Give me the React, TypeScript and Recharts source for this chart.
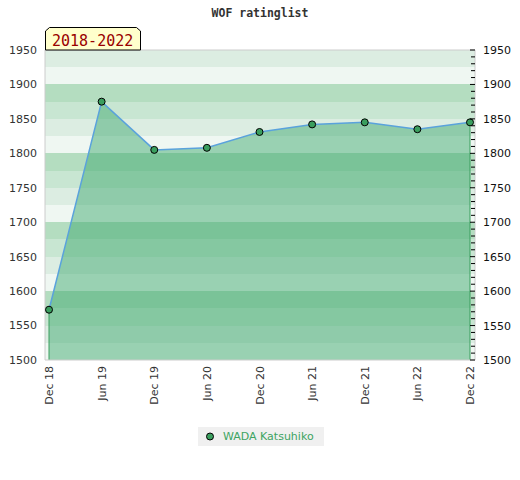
import { ComposedChart, Area, Line, XAxis, YAxis, CartesianGrid, ReferenceLine } from 'recharts';

const months = ['Dec 18', 'Jun 19', 'Dec 19', 'Jun 20', 'Dec 20', 'Jun 21', 'Dec 21', 'Jun 22', 'Dec 22'];
const ratings = [1573, 1875, 1805, 1808, 1831, 1842, 1845, 1835, 1845];
const playerName = 'WADA Katsuhiko';
const periodLabel = '2018-2022';
const chartTitle = 'WOF ratinglist';

const yTicks = [1500, 1550, 1600, 1650, 1700, 1750, 1800, 1850, 1900, 1950];
const bandEdges = [
  1500, 1525, 1550, 1575, 1600, 1625, 1650, 1675, 1700, 1725, 1750, 1775, 1800, 1825, 1850, 1875, 1900, 1925, 1950,
];
const minorTicks = [
  1500, 1510, 1520, 1530, 1540, 1550, 1560, 1570, 1580, 1590, 1600, 1610, 1620, 1630, 1640, 1650, 1660, 1670, 1680,
  1690, 1700, 1710, 1720, 1730, 1740, 1750, 1760, 1770, 1780, 1790, 1800, 1810, 1820, 1830, 1840, 1850, 1860, 1870,
  1880, 1890, 1900, 1910, 1920, 1930, 1940, 1950,
];

const data = months.map((month, i) => ({ month, rating: ratings[i] }));
const yMin = yTicks[0];
const yMax = yTicks[yTicks.length - 1];

const font = 'DejaVu Sans, sans-serif';
const mono = 'DejaVu Sans Mono, monospace';
const green = '#3a9e5e';

const bandColors = ['#dcede2', '#eff7f2', '#b4ddc0', '#c8e6d2'];

function MonthTick({ x, y, payload }: any) {
  return (
    <g transform={`translate(${x},${y})`}>
      <text x={0} y={0} dy={4} textAnchor="end" transform="rotate(-90)" fill="#333" fontSize={11} fontFamily={font}>
        {payload.value}
      </text>
    </g>
  );
}

function RightTick({ x, y, payload }: any) {
  const ax = x - 8;
  const major = payload.value % 50 === 0;
  return (
    <g>
      <line x1={ax - (major ? 5 : 4)} x2={ax} y1={y} y2={y} stroke="#000" strokeWidth={1} />
      {major && (
        <text x={x} y={y} dy={4} textAnchor="start" fill="#111" fontSize={11} fontFamily={font}>
          {payload.value}
        </text>
      )}
    </g>
  );
}

export default function App() {
  return (
    <div style={{ position: 'absolute', left: 0, top: 0, width: 520, height: 480, background: '#fff' }}>
      <ComposedChart width={520} height={480} data={data} margin={{ top: 50, right: 0, bottom: 0, left: 0 }}>
        <CartesianGrid
          yAxisId="left"
          vertical={false}
          horizontalValues={bandEdges}
          horizontalFill={bandColors}
          fillOpacity={1}
          stroke="transparent"
        />
        <XAxis
          dataKey="month"
          interval={0}
          height={120}
          padding={{ left: 4, right: 5 }}
          tickSize={0}
          tickMargin={6}
          tick={<MonthTick />}
          axisLine={{ stroke: '#ccc' }}
        />
        <YAxis
          yAxisId="left"
          domain={[yMin, yMax]}
          ticks={yTicks}
          interval={0}
          width={45}
          tickSize={0}
          tickMargin={8}
          tickLine={false}
          axisLine={{ stroke: '#ccc' }}
          tick={{ fill: '#333', fontSize: 11, fontFamily: font }}
        />
        <YAxis
          yAxisId="right"
          orientation="right"
          domain={[yMin, yMax]}
          allowDataOverflow
          ticks={minorTicks}
          interval={0}
          width={45}
          tickSize={0}
          tickMargin={8}
          tickLine={false}
          axisLine={{ stroke: '#ccc' }}
          tick={<RightTick />}
        />
        <ReferenceLine yAxisId="left" y={yMax} stroke="#ccc" />
        <Area
          yAxisId="left"
          type="linear"
          dataKey="rating"
          baseValue={yMin}
          fill="rgb(58,165,106)"
          fillOpacity={0.47}
          stroke="none"
          isAnimationActive={false}
        />
        <ReferenceLine
          yAxisId="left"
          segment={[
            { x: months[0], y: yMin },
            { x: months[0], y: ratings[0] },
          ]}
          stroke={green}
        />
        <ReferenceLine
          yAxisId="left"
          segment={[
            { x: months[months.length - 1], y: yMin },
            { x: months[months.length - 1], y: ratings[ratings.length - 1] },
          ]}
          stroke={green}
        />
        <Line
          yAxisId="right"
          type="linear"
          dataKey="rating"
          stroke="#5aa2dc"
          strokeWidth={1.5}
          dot={{ r: 3.5, fill: green, stroke: '#000', strokeWidth: 1, fillOpacity: 1 }}
          activeDot={false}
          isAnimationActive={false}
        />
      </ComposedChart>
      <svg width={520} height={480} style={{ position: 'absolute', left: 0, top: 0, pointerEvents: 'none' }}>
        <text x={260} y={17} textAnchor="middle" fontFamily={mono} fontWeight="bold" fontSize={11.5} fill="#333">
          {chartTitle}
        </text>
        <polygon points="45.5,50 45.5,31 49.5,27.5 136.5,27.5 140.5,31 140.5,50" fill="#ffffcc" stroke="#000" strokeWidth={1} />
        <text x={52} y={46} fontFamily={mono} fontSize={15} fill="#990000">
          {periodLabel}
        </text>
      </svg>
      <div
        style={{
          position: 'absolute',
          left: 198,
          top: 427,
          width: 126,
          height: 19,
          background: '#f0f0f0',
          fontFamily: font,
          fontSize: 11,
          color: '#3da462',
          display: 'flex',
          alignItems: 'center',
        }}
      >
        <svg width={24} height={19}>
          <circle cx={12} cy={9.5} r={3.5} fill={green} stroke="#000" strokeWidth={1} />
        </svg>
        <span style={{ marginLeft: 1 }}>{playerName}</span>
      </div>
    </div>
  );
}
